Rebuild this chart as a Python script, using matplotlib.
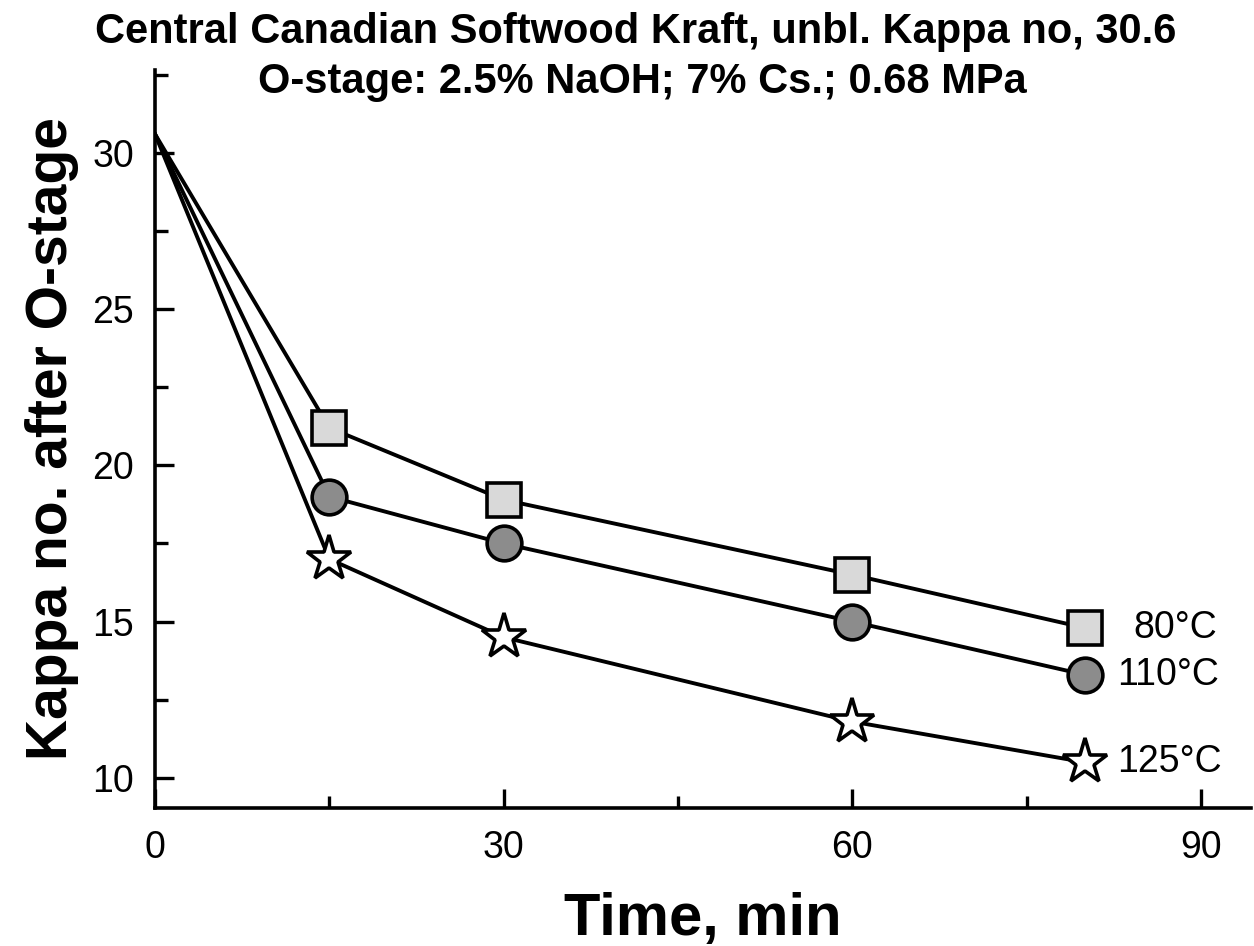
import matplotlib
matplotlib.use("Agg")

import matplotlib.pyplot as plt
from matplotlib.ticker import MultipleLocator

plt.rcParams["font.family"] = ["Liberation Sans", "DejaVu Sans"]

time = [0, 15, 30, 60, 80]
kappa_80 = [30.6, 21.2, 18.9, 16.5, 14.8]
kappa_110 = [30.6, 19.0, 17.5, 15.0, 13.3]
kappa_125 = [30.6, 17.0, 14.5, 11.8, 10.5]
labels = ["80°C", "110°C", "125°C"]
label_dx = [4.2, 2.8, 2.8]

fig = plt.figure(figsize=(12.54, 9.46), dpi=100)
ax = fig.add_axes([0.1236, 0.146, 0.874, 0.78])

series = [
    (kappa_80, "s", "#d9d9d9", 25),
    (kappa_110, "o", "#8c8c8c", 25),
    (kappa_125, "*", "white", 34),
]
for (vals, mk, fc, ms), lab, dx in zip(series, labels, label_dx):
    ax.plot(time, vals, color="black", lw=2.8, marker=mk, ms=ms,
            mfc=fc, mec="black", mew=2.6, markevery=[1, 2, 3, 4])
    ax.text(time[-1] + dx, vals[-1], lab, fontsize=27, va="center", ha="left")

ax.set_xlim(0, 94.3)
ax.set_ylim(9.04, 32.65)
ax.xaxis.set_major_locator(MultipleLocator(30))
ax.xaxis.set_minor_locator(MultipleLocator(15))
ax.yaxis.set_major_locator(MultipleLocator(5))
ax.yaxis.set_minor_locator(MultipleLocator(2.5))
ax.set_yticks([10, 15, 20, 25, 30])

ax.tick_params(which="both", direction="in", width=2.4, labelsize=27, colors="black")
ax.tick_params(which="major", length=14)
ax.tick_params(which="minor", length=9)
ax.tick_params(axis="x", pad=16)
ax.tick_params(axis="y", pad=15)

for s in ["top", "right"]:
    ax.spines[s].set_visible(False)
for s in ["left", "bottom"]:
    ax.spines[s].set_linewidth(2.6)

ax.set_xlabel("Time, min", fontsize=43, fontweight="bold", labelpad=19)
ax.set_ylabel("Kappa no. after O-stage", fontsize=41, fontweight="bold", labelpad=10)

fig.text(0.507, 0.966, "Central Canadian Softwood Kraft, unbl. Kappa no, 30.6",
         fontsize=30, fontweight="bold", ha="center", va="center")
fig.text(0.512, 0.913, "O-stage: 2.5% NaOH; 7% Cs.; 0.68 MPa",
         fontsize=30, fontweight="bold", ha="center", va="center")

fig.savefig("out.png", dpi=100)
plt.close(fig)
